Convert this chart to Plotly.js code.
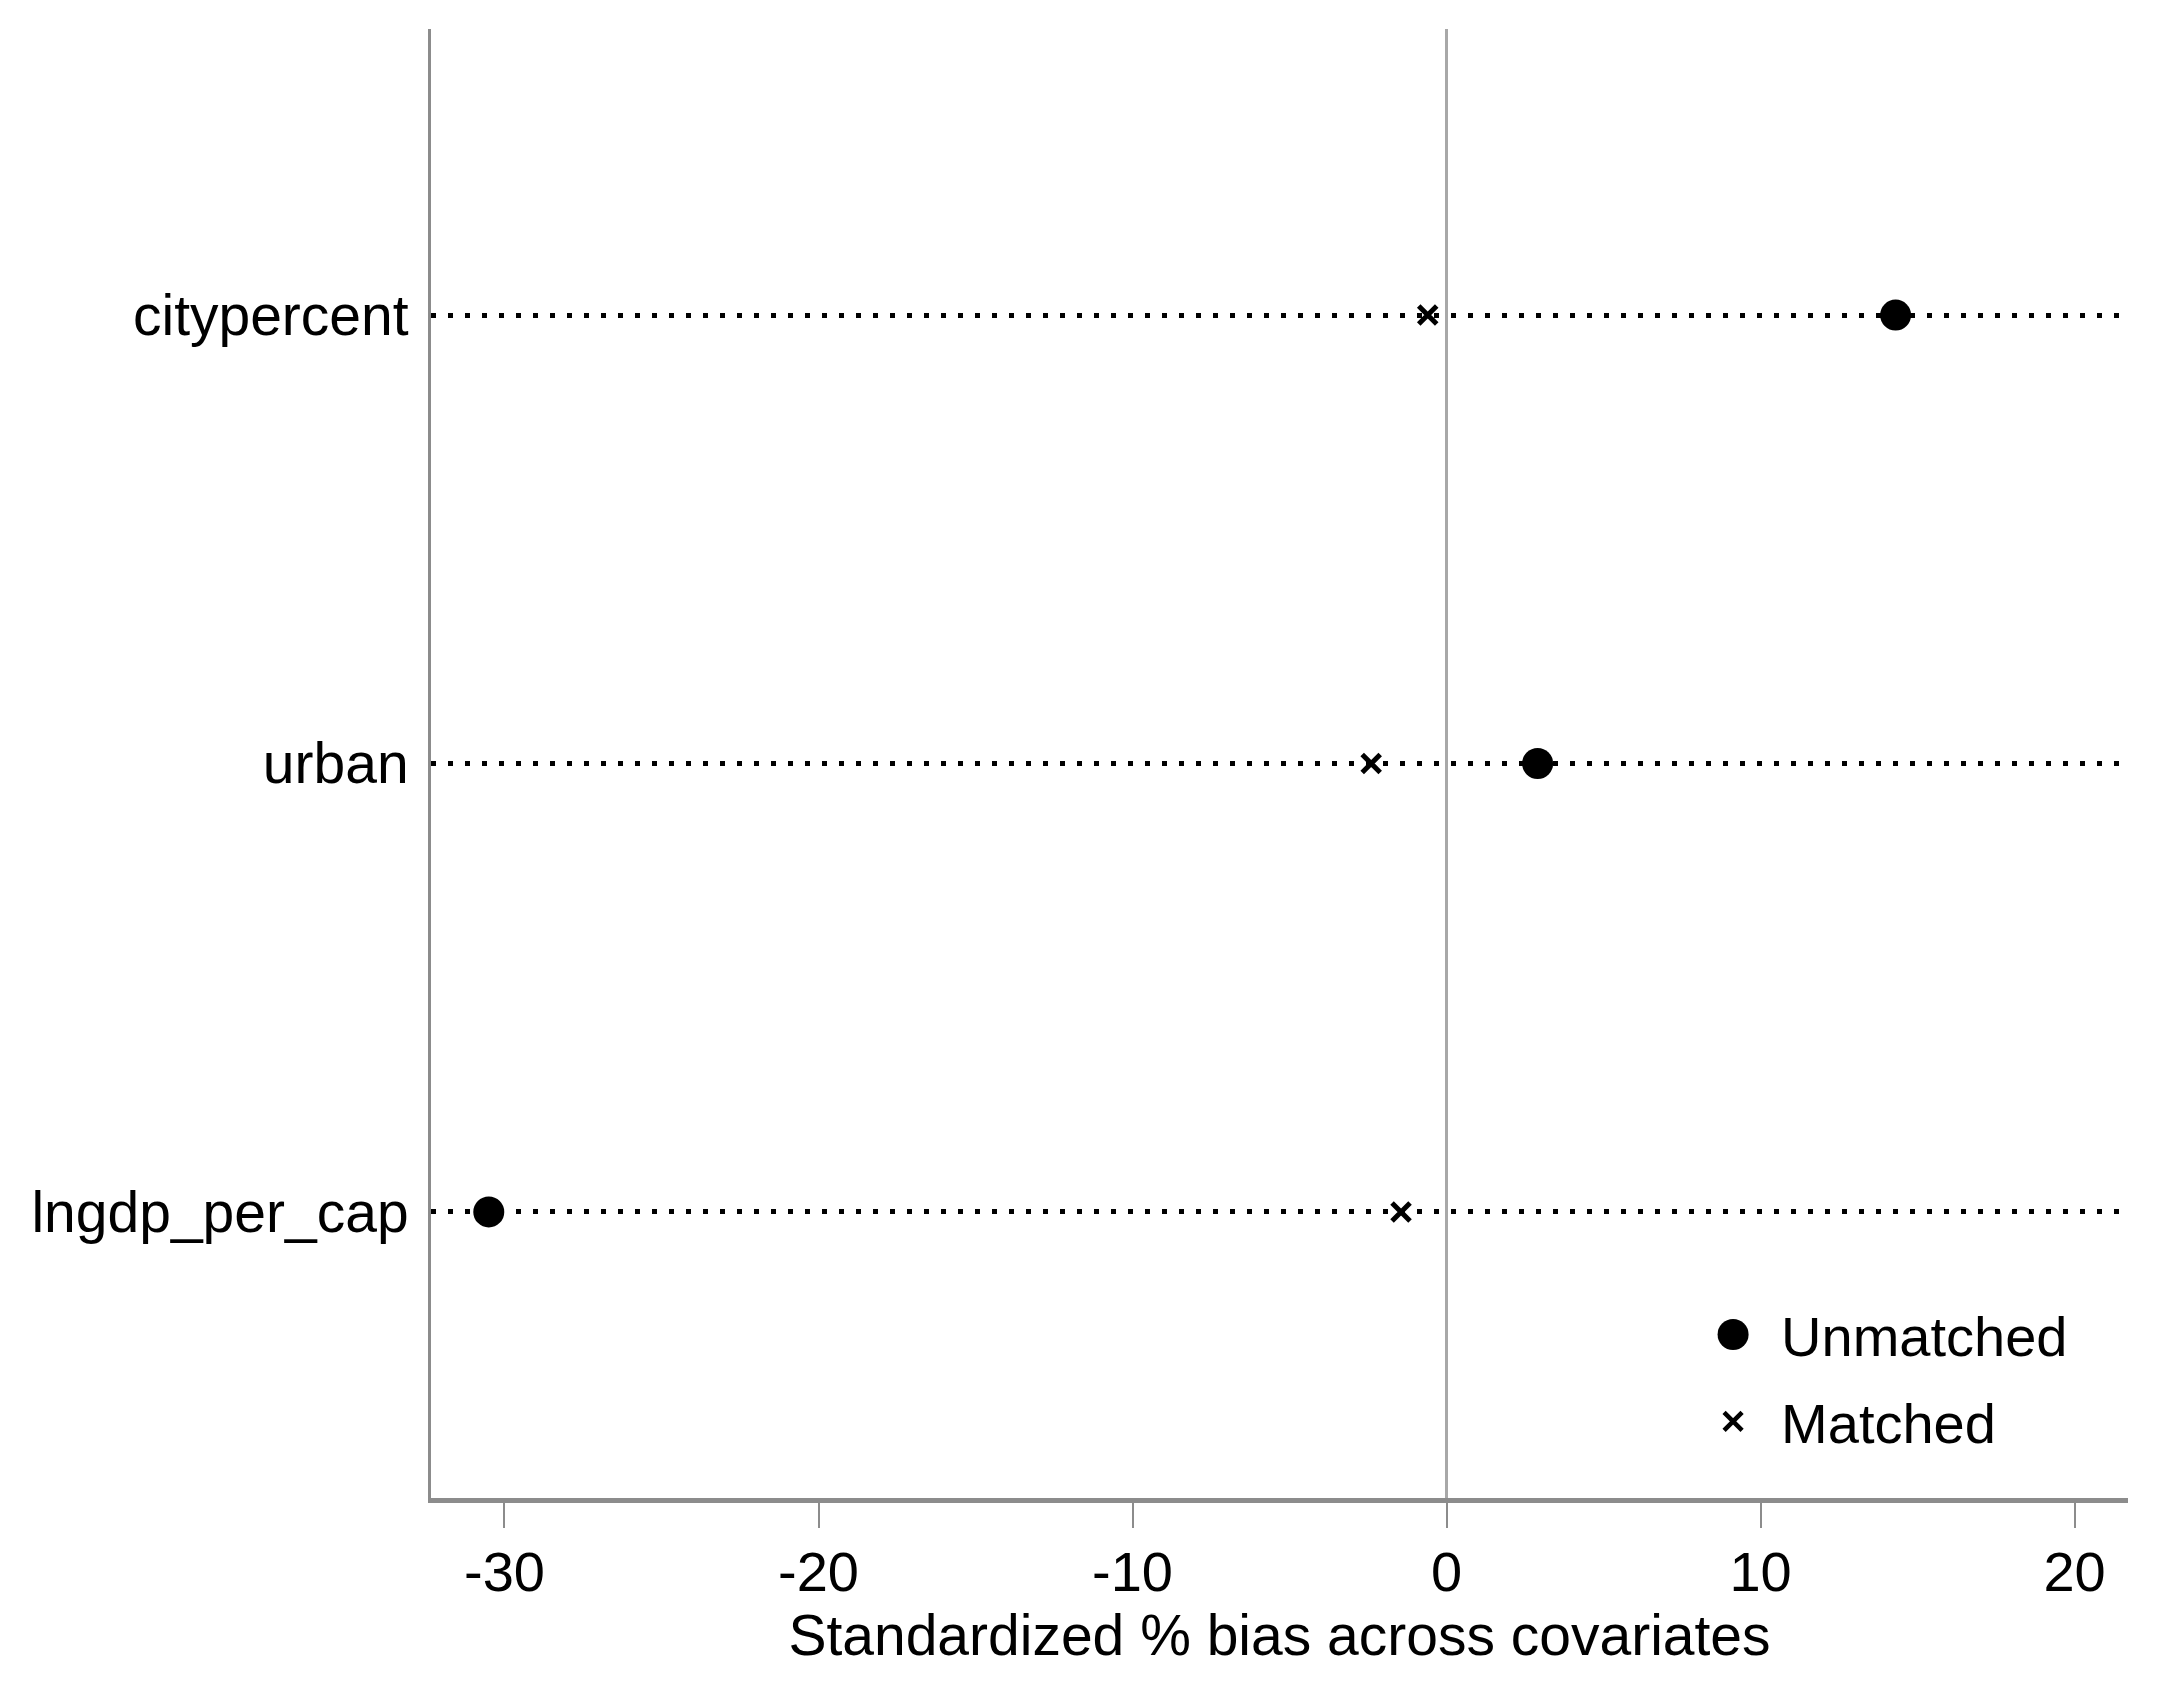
<!DOCTYPE html>
<html>
<head>
<meta charset="utf-8">
<script src="https://cdn.plot.ly/plotly-3.0.1.min.js"></script>
<style>html,body{margin:0;padding:0;background:#fff}#chart{width:2159px;height:1687px}</style>
</head>
<body>
<div id="chart"></div>
<script>
const covariates = ['citypercent', 'urban', 'lngdp_per_cap'];
const unmatched = [14.3, 2.9, -30.5];
const matched = [-0.6, -2.4, -1.45];
const xTickVals = [-30, -20, -10, 0, 10, 20];
const xTickText = ['-30', '-20', '-10', '0', '10', '20'];
const categoryOrder = ['lngdp_per_cap', 'urban', 'citypercent'];

const FONT = 'Liberation Sans, Arial, Helvetica, sans-serif';

const traces = [
  {
    type: 'scatter', mode: 'markers', name: 'Unmatched', legendgroup: 'a',
    x: unmatched, y: covariates,
    marker: {symbol: 'circle', size: 31, color: '#000'},
    cliponaxis: false
  },
  {
    type: 'scatter', mode: 'markers', name: 'Matched', legendgroup: 'b',
    x: matched, y: covariates,
    marker: {symbol: 'x-thin', size: 18, color: '#000', line: {color: '#000', width: 5}},
    cliponaxis: false
  }
];

const layout = {
  width: 2159, height: 1687,
  paper_bgcolor: '#fff', plot_bgcolor: '#fff',
  margin: {l: 431, r: 31, t: 29, b: 189, pad: 0},
  font: {family: FONT, size: 56, color: '#000'},
  showlegend: true,
  legend: {
    x: 0.772, y: 0.1405, xanchor: 'left', yanchor: 'top',
    bgcolor: 'rgba(0,0,0,0)', borderwidth: 0,
    font: {family: FONT, size: 56, color: '#000'},
    traceorder: 'grouped', tracegroupgap: 11
  },
  xaxis: {
    range: [-32.34, 21.7],
    tickmode: 'array', tickvals: xTickVals, ticktext: xTickText,
    ticks: 'outside', ticklen: 25, tickwidth: 2, tickcolor: '#8c8c8c',
    showline: true, linecolor: '#8c8c8c', linewidth: 5,
    showgrid: false,
    zeroline: true, zerolinecolor: '#a8a8a8', zerolinewidth: 3,
    ticklabelstandoff: -4,
    tickfont: {family: FONT, size: 56, color: '#000'},
    title: {text: 'Standardized % bias across covariates', standoff: 0,
            font: {family: FONT, size: 57, color: '#000'}},
    fixedrange: true
  },
  yaxis: {
    type: 'category', categoryorder: 'array', categoryarray: categoryOrder,
    range: [-0.638, 2.638],
    ticks: '', showline: true, linecolor: '#8c8c8c', linewidth: 3,
    showgrid: true, gridcolor: '#000', gridwidth: 5, griddash: '5px,12px',
    zeroline: false,
    ticklabelstandoff: 8,
    tickfont: {family: FONT, size: 57, color: '#000'},
    fixedrange: true
  }
};

// enlarge legend symbols (Plotly caps their size) and move them left of the text
function fixLegend() {
  document.querySelectorAll('#chart .legend, #chart .legend *').forEach(el => {
    if (el.hasAttribute && el.hasAttribute('clip-path')) el.removeAttribute('clip-path');
  });
  const targets = [31, 18];
  const pts = document.querySelectorAll('#chart .legend .traces');
  pts.forEach((tr, i) => {
    const p = tr.querySelector('.legendpoints path');
    if (!p) return;
    const bb = p.getBBox();
    if (!bb.width) return;
    const s = targets[i] / bb.width;
    const t = p.getAttribute('transform') || '';
    const m = /translate\(\s*([-\d.]+)[ ,]+([-\d.]+)\s*\)/.exec(t);
    const tx = m ? parseFloat(m[1]) : 20;
    const ty = m ? parseFloat(m[2]) : 0;
    p.setAttribute('transform', 'translate(' + (tx - 28) + ',' + ty + ') scale(' + s + ')');
    if (i === 1) p.style.strokeWidth = (4.5 / s) + 'px';
  });
}

Plotly.newPlot('chart', traces, layout, {staticPlot: true, displayModeBar: false}).then(fixLegend);
</script>
</body>
</html>
